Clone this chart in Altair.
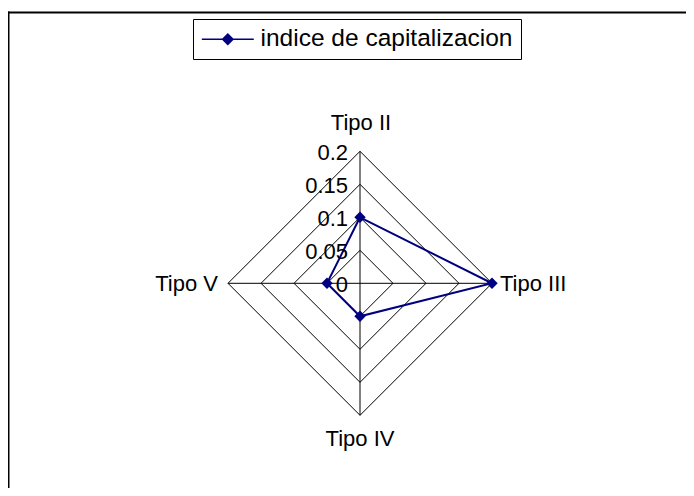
import altair as alt
import pandas as pd
import numpy as np

# ---- data ----
categories = ["Tipo II", "Tipo III", "Tipo IV", "Tipo V"]
values = [0.1, 0.2, 0.05, 0.05]
ticks = [0, 0.05, 0.1, 0.15, 0.2]
tick_labels = ["0", "0.05", "0.1", "0.15", "0.2"]
series_name = "indice de capitalizacion"

# ---- geometry helpers ----
n = len(categories)
theta = [2 * np.pi * i / n for i in range(n)]  # clockwise from top
rmax = max(ticks)

W, H = 678, 480
PX = 660.0          # pixels per data unit
cx, cy = 352.0, 275.3
xs = alt.Scale(domain=[-cx / PX, (W - cx) / PX], nice=False, zero=False)
ys = alt.Scale(domain=[-(H - cy) / PX, cy / PX], nice=False, zero=False)

FONT = "Liberation Sans"
NAVY = "#000080"

series_rows = []
for i in range(n + 1):
    k = i % n
    series_rows.append({
        "order": i, "category": categories[k], "value": values[k],
        "x": values[k] * np.sin(theta[k]), "y": values[k] * np.cos(theta[k]),
        "serie": series_name,
    })
series_df = pd.DataFrame(series_rows)

grid_rows = []
for t in ticks[1:]:
    for i in range(n + 1):
        k = i % n
        grid_rows.append({"level": t, "order": i,
                          "x": t * np.sin(theta[k]), "y": t * np.cos(theta[k])})
grid_df = pd.DataFrame(grid_rows)

spoke_df = pd.DataFrame({
    "category": categories,
    "x": [0.0] * n, "y": [0.0] * n,
    "x2": [rmax * np.sin(a) for a in theta],
    "y2": [rmax * np.cos(a) for a in theta],
})

tick_df = pd.DataFrame({"value": ticks, "label": tick_labels, "x": [0.0] * len(ticks)})

X = alt.X("x:Q", scale=xs, axis=None)
Y = alt.Y("y:Q", scale=ys, axis=None)

grid = alt.Chart(grid_df).mark_line(color="black", strokeWidth=1).encode(
    x=X, y=Y, detail="level:N", order="order:Q")

spokes = alt.Chart(spoke_df).mark_rule(color="black", strokeWidth=1).encode(
    x=X, y=Y, x2="x2:Q", y2="y2:Q")

# legend symbol: a short line with a diamond on it
legend_path = "M-2.2,0L7.8,0M1.8,0L2.8,-1L3.8,0L2.8,1Z"

line = alt.Chart(series_df).mark_line(strokeWidth=2).encode(
    x=X, y=Y, order="order:Q",
    color=alt.Color("serie:N", scale=alt.Scale(range=[NAVY]), legend=alt.Legend(
        title=None, orient="none", legendX=185, legendY=11,
        symbolType=legend_path, symbolSize=108, symbolStrokeWidth=1.5,
        symbolFillColor=NAVY, symbolStrokeColor=NAVY,
        labelFont=FONT, labelFontSize=24.5, labelColor="black", labelOffset=35,
        labelLimit=0, padding=8, strokeColor="black",
    )))

points = alt.Chart(series_df[series_df["order"] < n]).mark_point(
    shape="diamond", filled=True, size=130, color=NAVY, opacity=1).encode(x=X, y=Y)

tick_text = alt.Chart(tick_df).mark_text(
    font=FONT, fontSize=22, align="right", baseline="alphabetic", dx=-12, dy=9, color="black"
).encode(x=X, y=alt.Y("value:Q", scale=ys, axis=None), text="label:N")

lab_df = pd.DataFrame({
    "category": categories,
    "x": [rmax * np.sin(a) for a in theta],
    "y": [rmax * np.cos(a) for a in theta],
})
label_styles = [
    dict(align="center", dx=1, dy=-21),
    dict(align="left", dx=8, dy=8),
    dict(align="center", dx=0, dy=31),
    dict(align="right", dx=-10, dy=8),
]
label_layers = []
for cat, st in zip(categories, label_styles):
    label_layers.append(
        alt.Chart(lab_df).transform_filter(alt.datum.category == cat).mark_text(
            font=FONT, fontSize=22, baseline="alphabetic", color="black", **st
        ).encode(x=X, y=Y, text="category:N"))

frame_src = pd.DataFrame({"a": [0]})
frame_top = alt.Chart(frame_src).mark_rule(color="black", strokeWidth=2).encode(
    x=alt.value(-1), x2=alt.value(W + 20), y=alt.value(4.5))
frame_left = alt.Chart(frame_src).mark_rule(color="black", strokeWidth=2).encode(
    x=alt.value(0.5), y=alt.value(3.5), y2=alt.value(H + 20))

chart = alt.layer(
    grid, spokes, line, points, tick_text, *label_layers, frame_top, frame_left
).properties(
    width=W, height=H, padding=0, autosize=alt.AutoSizeParams(type="none"),
    background="white",
).configure_view(stroke=None)

chart.save("out.html", embed_options={"renderer": "svg", "actions": False})
